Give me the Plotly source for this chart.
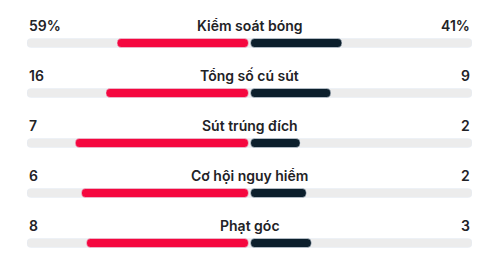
import plotly.graph_objects as go

labels = ["Kiểm soát bóng", "Tổng số cú sút", "Sút trúng đích", "Cơ hội nguy hiểm", "Phạt góc"]
home = [59, 16, 7, 6, 8]
away = [41, 9, 2, 2, 3]
home_text = ["59%", "16", "7", "6", "8"]
away_text = ["41%", "9", "2", "2", "3"]

RED = "#F5073F"
DARK = "#0C1F2C"
TRACK = "#ECECEC"
TXT = "#222226"

ypos = [-i for i in range(len(labels))]
home_share = [h / (h + a) for h, a in zip(home, away)]
away_share = [a / (h + a) for h, a in zip(home, away)]

fig = go.Figure()
fig.add_trace(go.Bar(y=ypos, x=[2] * len(ypos), base=[-1] * len(ypos), orientation="h",
                     marker=dict(color=TRACK, cornerradius=4), width=0.18, hoverinfo="skip"))
fig.add_trace(go.Bar(y=ypos, x=[-s for s in home_share], base=[-0.005] * len(ypos), orientation="h",
                     marker=dict(color=RED, cornerradius=4), width=0.18, hoverinfo="skip"))
fig.add_trace(go.Bar(y=ypos, x=away_share, base=[0.005] * len(ypos), orientation="h",
                     marker=dict(color=DARK, cornerradius=4), width=0.18, hoverinfo="skip"))

annots = []
for y, lab, ht, at in zip(ypos, labels, home_text, away_text):
    ty = y + 0.36
    annots.append(dict(x=-1, y=ty, text=ht, xanchor="left", showarrow=False))
    annots.append(dict(x=0, y=ty, text=lab, xanchor="center", showarrow=False))
    annots.append(dict(x=1, y=ty, text=at, xanchor="right", showarrow=False))

fig.update_layout(
    width=500, height=259,
    margin=dict(l=27, r=28, t=0, b=0),
    paper_bgcolor="white", plot_bgcolor="white",
    barmode="overlay", showlegend=False,
    xaxis=dict(range=[-1, 1], visible=False, fixedrange=True),
    yaxis=dict(range=[0.86 - 259 / 50, 0.86], visible=False, fixedrange=True),
    font=dict(family="Inter, Noto Sans, sans-serif", size=14, color=TXT),
    annotations=[dict(a, xref="x", yref="y", yanchor="middle",
                      font=dict(family="Inter, sans-serif", size=14, color=TXT, weight=600)) for a in annots],
)

fig.write_html("out.html", config={"displayModeBar": False})
